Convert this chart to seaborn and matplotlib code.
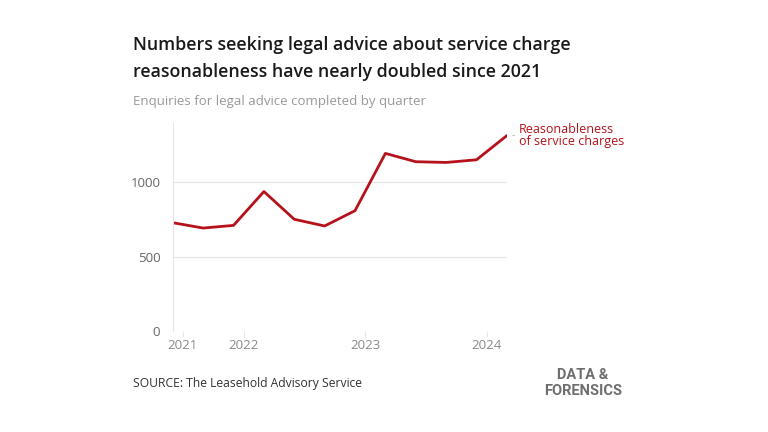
import matplotlib
matplotlib.use("Agg")
import matplotlib.pyplot as plt
import seaborn as sns
import pandas as pd

# Data (quarterly enquiries)
quarters = list(range(12))
enquiries = [729, 693, 711, 939, 752, 707, 810, 1196, 1140, 1135, 1153, 1316]
year_ticks = [0.33, 2.33, 6.33, 10.33]
year_labels = ["2021", "2022", "2023", "2024"]

df = pd.DataFrame({"quarter": quarters, "enquiries": enquiries})

red = "#b5121b"

sns.set_theme(style="white")
plt.rcParams['font.family'] = ['Open Sans', 'DejaVu Sans']

fig = plt.figure(figsize=(7.68, 4.32), dpi=100)
ax = fig.add_axes([0.225, 0.234, 0.435, 0.481])

sns.lineplot(data=df, x="quarter", y="enquiries", color=red, linewidth=2.0, ax=ax)

ax.set_xlim(0, 11)
ax.set_ylim(0, 1400)
ax.set_yticks([0, 500, 1000])
ax.set_yticklabels(["0", "500", "1000"])
ax.set_xticks(year_ticks)
ax.set_xticklabels(year_labels)
ax.set_xlabel("")
ax.set_ylabel("")

for v in [0, 500, 1000]:
    ax.axhline(v, color="#e6e6e6", linewidth=0.8, zorder=0)

for side in ["top", "right", "bottom"]:
    ax.spines[side].set_visible(False)
ax.spines["left"].set_color("#e6e6e6")
ax.spines["left"].set_linewidth(0.8)

ax.tick_params(axis="y", length=0, labelsize=9.5, labelcolor="#666666", pad=9)
ax.tick_params(axis="x", length=4, width=0.8, color="#e6e6e6", labelsize=9.5,
               labelcolor="#8a8a8a", pad=2, bottom=True)

# Series label
ax.annotate("Reasonableness\nof service charges", xy=(11, enquiries[-1]),
            xytext=(8.5, 0), textcoords="offset points", color=red,
            fontsize=9, va="center", ha="left", linespacing=0.95,
            annotation_clip=False)
fig.text(512 / 768, 1 - 136 / 432, "-", color="#aaaaaa", fontsize=7, va="center")

fig.text(133 / 768, 1 - 45 / 432, "Numbers seeking legal advice about service charge",
         fontsize=12.8, fontweight="semibold", color="#1a1a1a", va="center")
fig.text(133 / 768, 1 - 72 / 432, "reasonableness have nearly doubled since 2021",
         fontsize=12.8, fontweight="semibold", color="#1a1a1a", va="center")
fig.text(133 / 768, 1 - 101 / 432, "Enquiries for legal advice completed by quarter",
         fontsize=9.5, color="#999999", va="center")
fig.text(133 / 768, 1 - 383 / 432, "SOURCE: The Leasehold Advisory Service",
         fontsize=8.7, color="#333333", va="center")
fig.text(583 / 768, 1 - 383 / 432, "DATA &\nFORENSICS", fontsize=10.5,
         fontweight="bold", color="#6e6e6e", ha="center", va="center",
         linespacing=1.1, family=["Roboto", "DejaVu Sans"])

fig.savefig("out.png", dpi=100, facecolor="white")
